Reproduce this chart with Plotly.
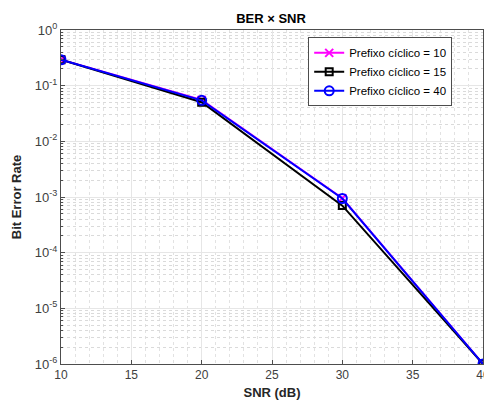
import plotly.graph_objects as go

snr = [10, 20, 30, 40]
ber_cp10 = [0.292, 0.0555, 9.5e-4, 1e-6]
ber_cp15 = [0.292, 0.0505, 7.0e-4, 1e-6]
ber_cp40 = [0.292, 0.0545, 9.4e-4, 1e-6]
nomes = ['Prefixo cíclico = 10', 'Prefixo cíclico = 15', 'Prefixo cíclico = 40']

ytick_vals = [1, 1e-1, 1e-2, 1e-3, 1e-4, 1e-5, 1e-6]
ytick_txt = ['10<sup>0</sup>', '10<sup>-1</sup>', '10<sup>-2</sup>', '10<sup>-3</sup>',
             '10<sup>-4</sup>', '10<sup>-5</sup>', '10<sup>-6</sup>']

fonte = 'Liberation Sans, Arial'

fig = go.Figure()
fig.add_trace(go.Scatter(x=snr, y=ber_cp10, name=nomes[0], mode='lines+markers',
                         line=dict(color='#ff00ff', width=2),
                         marker=dict(symbol='x-thin-open', size=8, color='#ff00ff',
                                     line=dict(color='#ff00ff', width=2))))
fig.add_trace(go.Scatter(x=snr, y=ber_cp15, name=nomes[1], mode='lines+markers',
                         line=dict(color='#000000', width=2),
                         marker=dict(symbol='square-open', size=7, color='#000000',
                                     line=dict(width=2))))
fig.add_trace(go.Scatter(x=snr, y=ber_cp40, name=nomes[2], mode='lines+markers',
                         line=dict(color='#0000ff', width=2),
                         marker=dict(symbol='circle-open', size=9, color='#0000ff',
                                     line=dict(width=2))))

eixo = dict(showline=True, linecolor='#4d4d4d', linewidth=1, mirror=True,
            ticks='inside', ticklen=4, tickcolor='#4d4d4d', automargin=False,
            showgrid=True, gridcolor='#e6e6e6', gridwidth=1, zeroline=False,
            tickfont=dict(family=fonte, size=12, color='#404040'))

fig.update_xaxes(eixo, range=[10, 40], dtick=5, ticklabeloverflow='allow',
                 title=dict(text='<b>SNR (dB)</b>', standoff=6,
                            font=dict(family=fonte, size=13, color='#262626')),
                 minor=dict(dtick=1, showgrid=True, gridcolor='#e2e2e2', griddash='dot',
                            ticks=''))
fig.update_yaxes(eixo, type='log', range=[-6, 0], tickvals=ytick_vals, ticktext=ytick_txt,
                 tickfont=dict(family=fonte, size=13, color='#404040'),
                 title=dict(text='<b>Bit Error Rate</b>', standoff=10,
                            font=dict(family=fonte, size=13, color='#262626')),
                 minor=dict(dtick='D1', showgrid=True, gridcolor='#dadada', griddash='dot',
                            ticks='inside', ticklen=2, tickcolor='#4d4d4d'))

fig.update_layout(
    width=484, height=405,
    margin=dict(l=61, r=1, t=30, b=41),
    paper_bgcolor='white', plot_bgcolor='white',
    title=dict(text='<b>BER × SNR</b>', x=0.56, xanchor='center', y=0.955, yanchor='middle',
               font=dict(family=fonte, size=13, color='#000000')),
    legend=dict(x=0.927, xanchor='right', y=0.978, yanchor='top',
                bgcolor='white', bordercolor='#4d4d4d', borderwidth=1,
                font=dict(family=fonte, size=11.5, color='#000000'),
                tracegroupgap=0, itemwidth=30),
    showlegend=True,
)

# a página tem margem de 8px por padrão; zera para o gráfico ocupar a janela
fig.write_html("out.html", config={'displayModeBar': False},
               post_script="document.body.style.margin='0px';")
